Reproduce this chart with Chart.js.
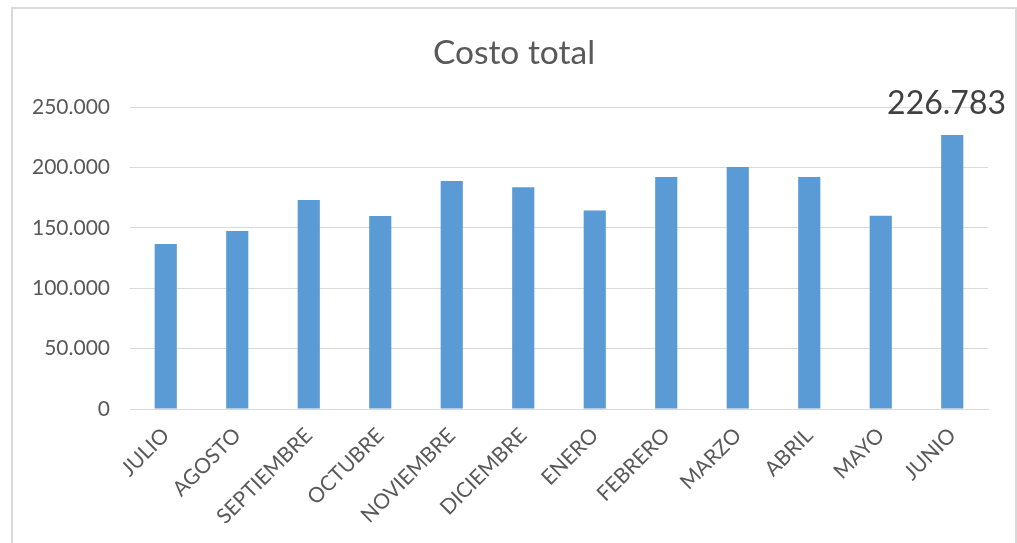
<!DOCTYPE html>
<html>
<head>
<meta charset="utf-8">
<script src="https://cdn.jsdelivr.net/npm/chart.js@4/dist/chart.umd.min.js"></script>
<style>
  html, body { margin: 0; padding: 0; background: #fff; overflow: hidden; }
  #frame { position: absolute; left: 11px; top: 7px; width: 1002px; height: 600px; border: 2px solid #d9d9d9; }
  #wrap { position: absolute; left: 0; top: 0; width: 1017px; height: 543px; }
</style>
</head>
<body>
<div id="frame"></div>
<div id="wrap"><canvas id="chart"></canvas></div>
<script>
/* ── DATA ── */
const chartTitle = 'Costo total';
const months = ['JULIO','AGOSTO','SEPTIEMBRE','OCTUBRE','NOVIEMBRE','DICIEMBRE','ENERO','FEBRERO','MARZO','ABRIL','MAYO','JUNIO'];
const costoTotal = [136600, 147300, 173000, 159800, 188800, 183500, 164400, 192100, 200300, 192100, 160000, 226783];
const yTicks = [0, 50000, 100000, 150000, 200000, 250000];
const labelIndex = 11;   // only JUNIO carries a value label

const fmt = v => v.toString().replace(/\B(?=(\d{3})+(?!\d))/g, '.');

/* ── TITLE (centred on the whole frame, not the plot) ── */
const frameTitle = {
  id: 'frameTitle',
  afterDraw(chart) {
    const ctx = chart.ctx;
    ctx.save();
    ctx.font = '33.5px Lato';
    ctx.fillStyle = '#595959';
    ctx.textAlign = 'center';
    ctx.textBaseline = 'middle';
    ctx.fillText(chartTitle, 514, 53);
    ctx.restore();
  }
};

/* ── VALUE LABEL ── */
const lastLabel = {
  id: 'lastLabel',
  afterDatasetsDraw(chart) {
    const bar = chart.getDatasetMeta(0).data[labelIndex];
    const ctx = chart.ctx;
    const txt = fmt(costoTotal[labelIndex]);
    ctx.save();
    ctx.font = '32px Lato';
    ctx.fillStyle = '#404040';
    ctx.textBaseline = 'alphabetic';
    const w = ctx.measureText(txt).width;
    let x = bar.x - w / 2;
    if (x + w > 1006) x = 1006 - w;
    ctx.fillText(txt, x, bar.y - 21);
    ctx.restore();
  }
};

new Chart(document.getElementById('chart'), {
  type: 'bar',
  data: {
    labels: months,
    datasets: [{
      data: costoTotal,
      backgroundColor: '#5B9BD5',
      borderWidth: 0,
      categoryPercentage: 1,
      barPercentage: 0.31
    }]
  },
  options: {
    responsive: true,
    maintainAspectRatio: false,
    animation: false,
    layout: { padding: { left: 0, right: 29, top: 107, bottom: 0 } },
    plugins: {
      legend: { display: false },
      tooltip: { enabled: false },
      title: { display: false }
    },
    scales: {
      x: {
        grid: { display: false, drawTicks: false },
        border: { display: true, color: '#d9d9d9', width: 1 },
        ticks: {
          color: '#595959', font: { family: 'Lato', size: 21 },
          minRotation: 45, maxRotation: 45, padding: 14, autoSkip: false
        },
        afterFit: s => { s.height = 134; }
      },
      y: {
        min: 0, max: 250000,
        afterBuildTicks: s => { s.ticks = yTicks.map(v => ({ value: v })); },
        grid: { color: '#d9d9d9', lineWidth: 1, drawTicks: false },
        border: { display: false },
        ticks: {
          color: '#595959', font: { family: 'Lato', size: 21 }, padding: 20,
          callback: v => fmt(v)
        },
        afterFit: s => { s.width = 130; }
      }
    }
  },
  plugins: [frameTitle, lastLabel]
});
</script>
</body>
</html>
